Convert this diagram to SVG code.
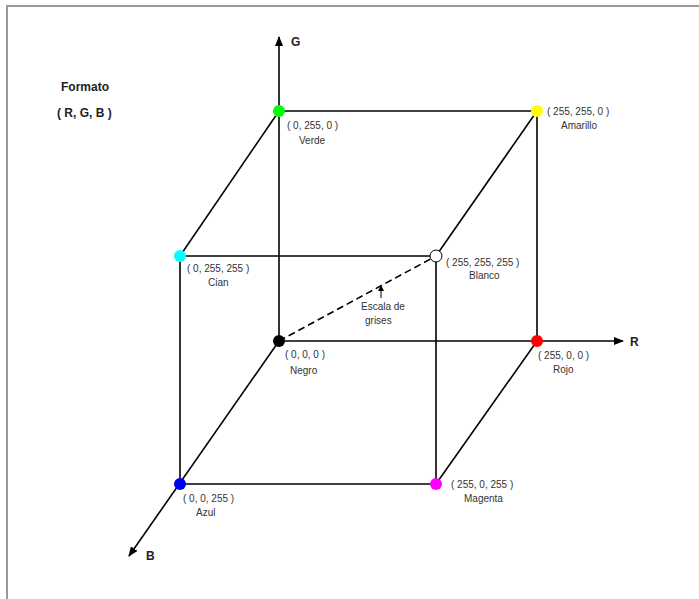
<svg xmlns="http://www.w3.org/2000/svg" width="699" height="599" viewBox="0 0 699 599">
<defs>
<marker id="ah" markerWidth="10" markerHeight="8" refX="9" refY="4" orient="auto" markerUnits="userSpaceOnUse">
<path d="M0,0 L10,4 L0,8 Z" fill="#000"/>
</marker>
<marker id="sah" markerWidth="6" markerHeight="6" refX="5" refY="3" orient="auto" markerUnits="userSpaceOnUse">
<path d="M0,0 L6,3 L0,6 Z" fill="#000"/>
</marker>
<style>
.e{stroke:#000;stroke-width:1.6;fill:none}
.t{font-family:"Liberation Sans",Arial,sans-serif;font-size:10px;fill:#333}
.b{font-family:"Liberation Sans",Arial,sans-serif;font-size:12px;font-weight:bold;fill:#222}
</style>
</defs>
<rect width="699" height="599" fill="#fff"/>
<path d="M7,599 V6 H699" stroke="#999" stroke-width="2" fill="none"/>
<g id="connectors">
<line class="e" x1="279" y1="341" x2="279" y2="37" marker-end="url(#ah)"/>
<line class="e" x1="279" y1="341" x2="623" y2="341" marker-end="url(#ah)"/>
<line class="e" x1="279" y1="341" x2="129" y2="556" marker-end="url(#ah)"/>
<line class="e" x1="279" y1="111" x2="537" y2="111"/>
<line class="e" x1="537" y1="111" x2="537" y2="341"/>
<line class="e" x1="279" y1="111" x2="180" y2="256"/>
<line class="e" x1="537" y1="111" x2="436" y2="256"/>
<line class="e" x1="180" y1="256" x2="436" y2="256"/>
<line class="e" x1="180" y1="256" x2="180" y2="484"/>
<line class="e" x1="436" y1="256" x2="436" y2="484"/>
<line class="e" x1="180" y1="484" x2="436" y2="484"/>
<line class="e" x1="537" y1="341" x2="436" y2="484"/>
<line class="e" x1="279" y1="341" x2="436" y2="256" stroke-dasharray="7,4" stroke-width="1.8"/>
<line x1="381" y1="298" x2="381" y2="286" stroke="#000" stroke-width="1" marker-end="url(#sah)"/>
</g>
<text class="b" x="291" y="46">G</text>
<text class="b" x="630" y="346">R</text>
<text class="b" x="146" y="560">B</text>
<text class="b" x="61" y="91">Formato</text>
<text class="b" x="57" y="117">( R, G, B )</text>
<text class="t" x="361" y="310">Escala de</text>
<text class="t" x="365" y="324">grises</text>
<g id="verde"><circle cx="279" cy="111" r="6" fill="#00ff00"/><text class="t" x="287" y="129">( 0, 255, 0 )</text><text class="t" x="299" y="144">Verde</text></g>
<g id="amarillo"><circle cx="537" cy="111" r="6" fill="#ffff00"/><text class="t" x="547" y="115">( 255, 255, 0 )</text><text class="t" x="561" y="129">Amarillo</text></g>
<g id="cian"><circle cx="180" cy="256" r="6" fill="#00ffff"/><text class="t" x="187" y="272">( 0, 255, 255 )</text><text class="t" x="208" y="286">Cian</text></g>
<g id="blanco"><circle cx="436" cy="256" r="6" fill="#fff" stroke="#000" stroke-width="1"/><text class="t" x="446" y="266">( 255, 255, 255 )</text><text class="t" x="469" y="279">Blanco</text></g>
<g id="negro"><circle cx="279" cy="341" r="6" fill="#000"/><text class="t" x="285" y="358">( 0, 0, 0 )</text><text class="t" x="290" y="374">Negro</text></g>
<g id="rojo"><circle cx="537" cy="341" r="6" fill="#ff0000"/><text class="t" x="538" y="359">( 255, 0, 0 )</text><text class="t" x="553" y="373">Rojo</text></g>
<g id="azul"><circle cx="180" cy="484" r="6" fill="#0000ff"/><text class="t" x="183" y="502">( 0, 0, 255 )</text><text class="t" x="196" y="516">Azul</text></g>
<g id="magenta"><circle cx="436" cy="484" r="6" fill="#ff00ff"/><text class="t" x="451" y="488">( 255, 0, 255 )</text><text class="t" x="464" y="502">Magenta</text></g>
</svg>
